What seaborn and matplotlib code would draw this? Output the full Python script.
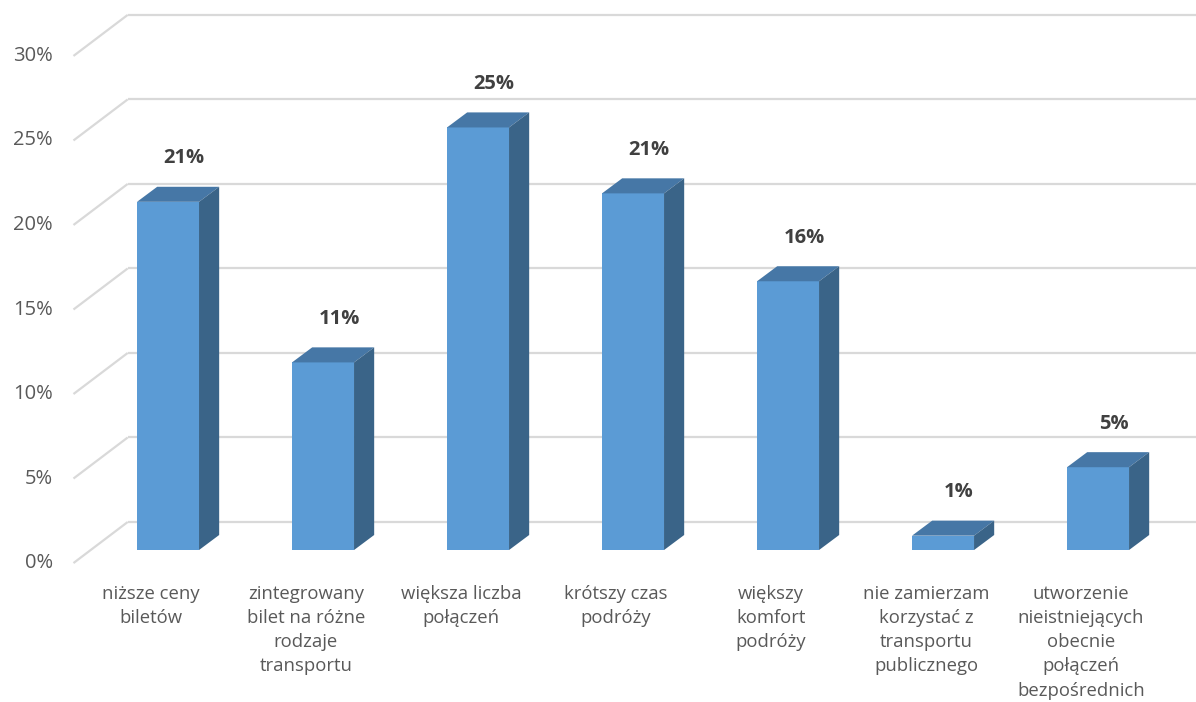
import matplotlib.pyplot as plt
from matplotlib.patches import Polygon
import seaborn as sns


# Datos del gráfico
categories = [
    "niższe ceny\nbiletów",
    "zintegrowany\nbilet na różne\nrodzaje\ntransportu",
    "większa liczba\npołączeń",
    "krótszy czas\npodróży",
    "większy\nkomfort\npodróży",
    "nie zamierzam\nkorzystać z\ntransportu\npublicznego",
    "utworzenie\nnieistniejących\nobecnie\npołączeń\nbezpośrednich",
]
values = [20.6, 11.1, 25.0, 21.1, 15.9, 0.85, 4.9]
value_labels = ["21%", "11%", "25%", "21%", "16%", "1%", "5%"]
y_ticks = [0, 5, 10, 15, 20, 25, 30]
y_tick_labels = ["0%", "5%", "10%", "15%", "20%", "25%", "30%"]

# Colores estilo Excel
FRONT = "#5B9BD5"
TOP = "#4677A6"
SIDE = "#3A6488"
GRID = "#D9D9D9"
TEXT = "#595959"
LABEL = "#404040"

# Geometría pseudo-3D (unidades de datos)
bar_w = 0.4
bar_dx, bar_dy = 0.13, 0.89      # profundidad de cada barra
wall_dx, wall_dy = 0.24, 1.66    # hasta la pared del fondo
front_dx, front_dy = -0.11, -0.77  # hasta el plano frontal

sns.set_theme(style="white")
plt.rcParams["font.family"] = ["Open Sans", "DejaVu Sans"]

fig = plt.figure(figsize=(11.96, 7.02), dpi=100)
ax = fig.add_axes([0, 0, 1, 1])

# Barras (cara frontal)
sns.barplot(
    x=list(range(len(values))),
    y=values,
    color=FRONT,
    saturation=1,
    width=bar_w,
    linewidth=0,
    ax=ax,
    zorder=3,
)

# Caras superior y lateral
for patch in list(ax.patches):
    x0 = patch.get_x()
    w = patch.get_width()
    h = patch.get_height()
    top = Polygon(
        [(x0, h), (x0 + w, h), (x0 + w + bar_dx, h + bar_dy), (x0 + bar_dx, h + bar_dy)],
        closed=True, facecolor=TOP, edgecolor="none", zorder=3,
    )
    side = Polygon(
        [(x0 + w, 0), (x0 + w + bar_dx, bar_dy), (x0 + w + bar_dx, h + bar_dy), (x0 + w, h)],
        closed=True, facecolor=SIDE, edgecolor="none", zorder=3,
    )
    ax.add_patch(top)
    ax.add_patch(side)

# Líneas de cuadrícula en perspectiva
x_left = -0.5
x_right = len(values) + 2
for t in y_ticks:
    ax.plot([x_left + front_dx, x_left + wall_dx], [t + front_dy, t + wall_dy],
            color=GRID, linewidth=1.6, zorder=1, solid_capstyle="butt")
    ax.plot([x_left + wall_dx, x_right], [t + wall_dy, t + wall_dy],
            color=GRID, linewidth=1.6, zorder=1, solid_capstyle="butt")

# Etiquetas del eje Y
for t, lab in zip(y_ticks, y_tick_labels):
    ax.annotate(lab, xy=(x_left + front_dx, t + front_dy), xytext=(-15, 0),
                textcoords="offset points", ha="right", va="center",
                fontsize=14.5, color=TEXT)

# Etiquetas de valores
for i, (v, lab) in enumerate(zip(values, value_labels)):
    ax.annotate(lab, xy=(i + bar_dx, v + bar_dy), xytext=(-3, 20.5),
                textcoords="offset points", ha="center", va="center",
                fontsize=14.5, fontweight="bold", color=LABEL)

# Etiquetas de categorías
for i, cat in enumerate(categories):
    ax.annotate(cat, xy=(i + front_dx, front_dy), xytext=(0, -15.5),
                textcoords="offset points", ha="center", va="top",
                fontsize=13.3, color=TEXT, linespacing=1.45)

ax.set_xlim(-1.084, 6.632)
ax.set_ylim(-8.99, 32.54)
ax.axis("off")

fig.savefig("out.png", dpi=100)
